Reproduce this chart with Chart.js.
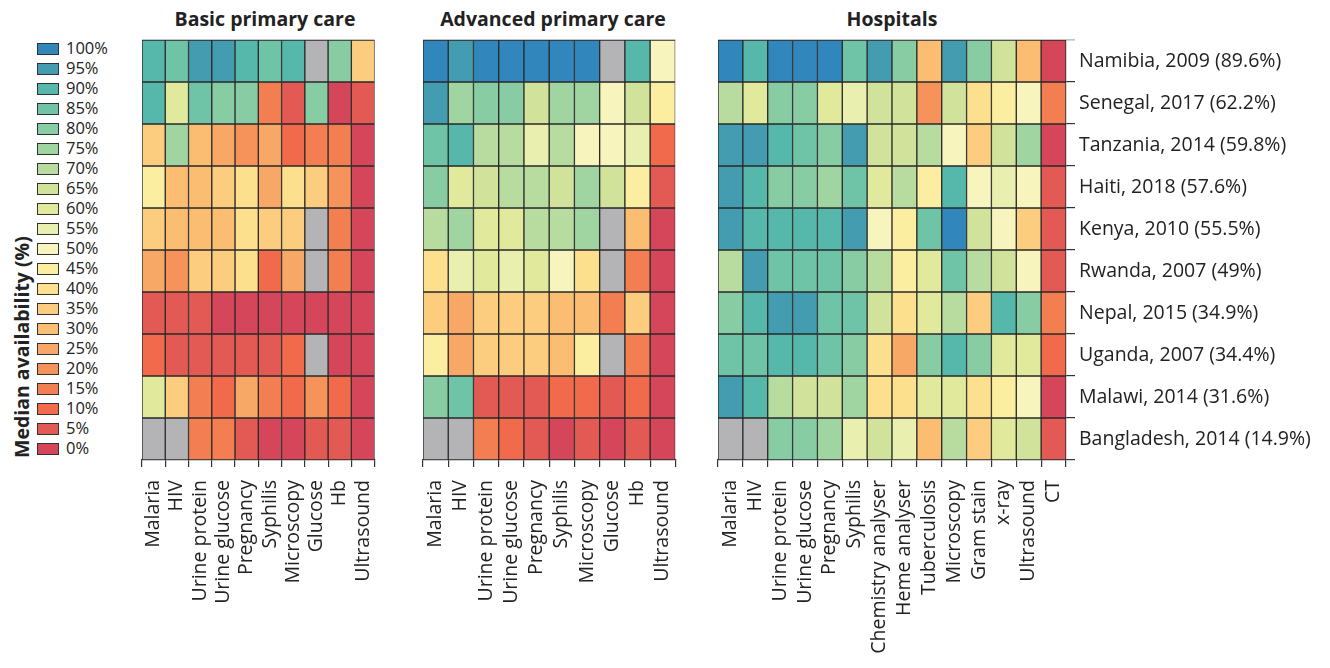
<!DOCTYPE html>
<html><head><meta charset="utf-8">
<script src="https://cdn.jsdelivr.net/npm/chart.js@4.4.1/dist/chart.umd.min.js"></script>
<style>
body{margin:0;background:#fff;width:1330px;height:668px;overflow:hidden;font-family:"Open Sans",sans-serif;color:#222;position:relative}
.abs{position:absolute}
.title{position:absolute;top:5px;font-weight:bold;font-size:19.5px;text-align:center;color:#222}
.lg{position:absolute;left:37px;width:20px;height:10px;border:1px solid #333}
.lt{position:absolute;left:66px;font-size:16.5px;line-height:16px;color:#222}
#ytitle{position:absolute;left:21px;top:458px;transform-origin:0 0;transform:rotate(-90deg);font-weight:bold;font-size:19.5px;white-space:nowrap;margin-left:-13px}
</style></head><body>
<div class="title" style="left:142px;width:246px">Basic primary care</div>
<div class="title" style="left:423px;width:260px">Advanced primary care</div>
<div class="title" style="left:718px;width:348px">Hospitals</div>
<div id="legend"></div>
<div id="ytitle">Median availability (%)</div>
<canvas id="c1" class="abs" width="300" height="668" style="left:100px;top:0"></canvas>
<canvas id="c2" class="abs" width="300" height="668" style="left:400px;top:0"></canvas>
<canvas id="c3" class="abs" width="630" height="668" style="left:700px;top:0"></canvas>
<script>
const countries = ["Namibia, 2009 (89.6%)","Senegal, 2017 (62.2%)","Tanzania, 2014 (59.8%)","Haiti, 2018 (57.6%)","Kenya, 2010 (55.5%)","Rwanda, 2007 (49%)","Nepal, 2015 (34.9%)","Uganda, 2007 (34.4%)","Malawi, 2014 (31.6%)","Bangladesh, 2014 (14.9%)"];
const basicTests = ["Malaria","HIV","Urine protein","Urine glucose","Pregnancy","Syphilis","Microscopy","Glucose","Hb","Ultrasound"];
const advancedTests = ["Malaria","HIV","Urine protein","Urine glucose","Pregnancy","Syphilis","Microscopy","Glucose","Hb","Ultrasound"];
const hospitalTests = ["Malaria","HIV","Urine protein","Urine glucose","Pregnancy","Syphilis","Chemistry analyser","Heme analyser","Tuberculosis","Microscopy","Gram stain","x-ray","Ultrasound","CT"];
const legendSteps = [100,95,90,85,80,75,70,65,60,55,50,45,40,35,30,25,20,15,10,5,0];

// median availability (%), null = not assessed
const basicValues = [
  [90,85,95,95,90,85,90,null,80,35],
  [90,60,85,80,80,15,5,80,0,5],
  [35,75,30,25,20,25,10,15,15,0],
  [45,30,30,35,40,25,40,35,20,0],
  [35,30,30,30,40,35,35,null,15,0],
  [25,20,35,35,40,10,25,null,15,0],
  [5,5,5,0,0,0,0,0,0,0],
  [10,5,5,5,5,5,10,null,0,0],
  [60,35,15,10,25,15,10,20,10,0],
  [null,null,15,15,5,0,0,5,5,0]
];
const advancedValues = [
  [100,95,100,100,100,100,100,null,90,50],
  [95,75,80,80,65,75,75,50,65,45],
  [85,90,70,70,55,70,50,50,55,10],
  [80,60,65,70,70,65,75,65,45,5],
  [70,75,60,60,70,70,75,null,30,0],
  [40,55,60,55,60,50,40,null,15,0],
  [35,25,35,35,35,30,30,15,35,0],
  [45,25,35,35,35,30,45,null,15,0],
  [80,85,5,5,5,10,10,5,10,0],
  [null,null,15,10,5,0,5,0,5,0]
];
const hospitalValues = [
  [100,90,100,100,100,85,95,80,30,95,80,65,30,0],
  [70,60,80,80,60,55,65,65,20,65,40,45,50,15],
  [95,95,90,85,80,95,65,65,70,50,35,65,75,0],
  [95,90,80,80,75,85,60,70,45,90,50,55,50,5],
  [95,90,90,90,90,95,50,45,85,100,65,50,35,5],
  [70,95,85,85,85,80,70,45,60,85,70,65,50,5],
  [80,90,95,95,85,85,65,40,60,70,35,90,80,15],
  [85,85,90,90,85,80,40,25,80,90,80,60,60,10],
  [95,90,70,65,65,75,40,40,60,60,40,45,50,0],
  [null,null,80,80,75,55,65,55,30,70,35,60,65,5]
];

const palette = ['#d6465a','#e25a53','#f06a4b','#f27e52','#f5935a','#f8a866','#fbbd72','#fccd7e','#fde08d','#fbeea0','#f7f5bd','#e9efae','#e0e99c','#d1e29b','#b8dc9f','#a0d4a1','#88cca4','#6fc4a7','#55b8ab','#439cb0','#3187bc'];
const missing = '#b4b4b6';
const colorFor = v => v === null ? missing : palette[Math.round(v/5)];

// legend
const lg = document.getElementById('legend');
legendSteps.forEach((s,i)=>{
  const b = document.createElement('div'); b.className='lg'; b.style.top=(43+20*i)+'px'; b.style.background=colorFor(s); lg.appendChild(b);
  const t = document.createElement('div'); t.className='lt'; t.style.top=(40+20*i)+'px'; t.textContent=s+'%'; lg.appendChild(t);
});

const FONT = '"Open Sans"';
const topLine = {
  id:'topLine',
  afterDraw(chart){
    const {ctx, chartArea} = chart;
    const extra = chart.options.plugins.topLine.extra || 0;
    ctx.save(); ctx.strokeStyle='#c4c4c4'; ctx.lineWidth=1;
    ctx.beginPath(); ctx.moveTo(chartArea.left, chartArea.top-0.5); ctx.lineTo(chartArea.right+extra, chartArea.top-0.5); ctx.stroke();
    ctx.restore();
  }
};
function makeChart(id, tests, values, pad, showRows){
  const scales = {
    x:{type:'category', offset:true,
       grid:{offset:true, drawOnChartArea:false, tickLength:7, color:'#333', lineWidth:1.2},
       border:{color:'#333', width:1.2},
       ticks:{minRotation:90,maxRotation:90,autoSkip:false,padding:13,font:{family:FONT,size:19.5},color:'#222'},
       afterFit(s){ s.height = 208; }},
    y:{type:'linear', min:0, max:10, reverse:true, display:false}
  };
  if(showRows){
    scales.y2 = {type:'category', labels:countries, position:'right', offset:true,
      grid:{offset:true, drawOnChartArea:false, tickLength:9, color:'#333', lineWidth:1.2},
      border:{color:'#333', width:1.2},
      ticks:{padding:4, font:{family:FONT,size:19.5}, color:'#222', autoSkip:false},
      afterFit(s){ s.width = 264; }};
  }
  return new Chart(document.getElementById(id), {
    type:'bar',
    data:{labels:tests, datasets: countries.map((c,r)=>({
      label:c,
      data: tests.map(()=>[r, r+1]),
      backgroundColor: values[r].map(colorFor),
      borderColor:'#2a2a2a', borderWidth:1, borderSkipped:false,
      barPercentage:1, categoryPercentage:1, grouped:false, yAxisID:'y'
    }))},
    options:{responsive:false, animation:false, events:[],
      layout:{padding:pad},
      plugins:{legend:{display:false}, tooltip:{enabled:false}, topLine:{extra: showRows ? 9 : 0}},
      scales},
    plugins:[topLine]
  });
}
makeChart('c1', basicTests, basicValues, {left:42,right:12,top:40,bottom:0}, false);
makeChart('c2', advancedTests, advancedValues, {left:23,right:17,top:40,bottom:0}, false);
makeChart('c3', hospitalTests, hospitalValues, {left:18,right:0,top:40,bottom:0}, true);
</script>
</body></html>
